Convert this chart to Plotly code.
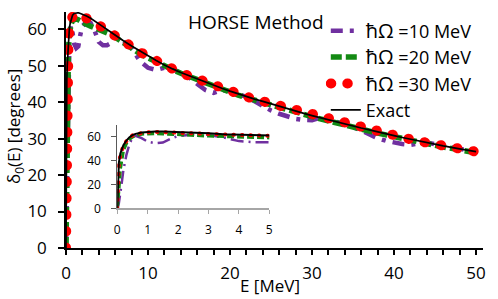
import plotly.graph_objects as go

# ---------------- data ----------------
E = [0, 0.02, 0.05, 0.1, 0.15, 0.2, 0.3, 0.4, 0.5, 0.6, 0.8, 1.0, 1.25, 1.5, 1.75,
     2.0, 2.5, 3.0, 3.5, 4.0, 4.5, 5.0, 5.5, 6.0, 6.5, 7, 8, 9, 10, 11, 12, 12.5,
     13, 14, 15, 16, 17, 18, 19, 20, 21, 22, 23, 24, 25, 26, 27, 28, 29, 30, 31,
     32, 34, 36, 37, 38, 39, 40, 41, 42, 43, 44, 46, 48, 50]

delta_exact = [0, 24, 38, 46, 50, 53, 57, 59.8, 61.5, 62.6, 63.8, 64.3, 64.5, 64.5, 64.3,
               64.1, 63.6, 63.0, 62.3, 61.5, 60.7, 59.9, 59.1, 58.3, 57.5, 56.8, 55.4, 54.0, 52.7, 51.4, 50.2, 49.6,
               49.1, 48.1, 47.2, 46.3, 45.5, 44.6, 43.8, 43.0, 42.2, 41.5, 40.8, 40.2, 39.5, 38.9, 38.2, 37.6, 36.9, 36.3, 35.7,
               35.1, 34.0, 32.9, 32.4, 31.8, 31.3, 30.8, 30.3, 29.8, 29.3, 28.9, 28.0, 27.2, 26.4]

delta_10 = [0, 1, 4, 12, 22, 32, 45, 54, 59.5, 61, 59.0, 56.0, 54.8, 55.3, 58.5,
            60.8, 62.0, 61.7, 59.5, 56.5, 55.6, 55.6, 56.2, 57.6, 57.4, 56.7, 54.8, 51.3, 49.4, 48.8, 49.4, 49.6,
            49.1, 48.0, 46.8, 45.0, 43.3, 42.5, 43.3, 43.0, 42.2, 41.4, 40.2, 38.8, 37.7, 36.8, 36.0, 35.4, 35.1, 35.0, 35.7,
            35.1, 34.0, 32.2, 31.0, 30.1, 29.4, 28.9, 28.5, 28.3, 28.5, 28.9, 28.0, 27.2, 26.4]

delta_20 = [0, 4, 15, 33, 43, 48.5, 54.5, 58, 60, 61.2, 62.4, 62.8, 62.8, 62.6, 62.2,
            61.8, 61.3, 60.8, 60.4, 60.0, 59.6, 59.1, 58.5, 57.8, 57.0, 56.2, 54.7, 53.3, 52.1, 50.9, 49.9, 49.4,
            48.9, 47.9, 47.0, 46.1, 45.2, 44.3, 43.5, 42.7, 41.9, 41.2, 40.5, 39.9, 39.2, 38.6, 37.9, 37.3, 36.6, 36.0, 35.4,
            34.8, 33.7, 32.6, 32.1, 31.5, 31.0, 30.5, 30.0, 29.5, 29.0, 28.6, 27.7, 26.9, 26.1]

delta_30 = [0, 20, 36, 45, 49.5, 52.5, 56.5, 59.5, 61.3, 62.4, 63.6, 64.0, 64.2, 64.1, 63.9,
            63.6, 63.1, 62.5, 61.8, 61.1, 60.4, 59.6, 58.8, 58.0, 57.3, 56.6, 55.2, 53.8, 52.5, 51.2, 50.0, 49.5,
            49.0, 48.0, 47.2, 46.3, 45.5, 44.6, 43.8, 43.0, 42.2, 41.5, 40.8, 40.2, 39.5, 38.9, 38.2, 37.6, 36.9, 36.3, 35.7,
            35.1, 34.0, 32.9, 32.4, 31.8, 31.3, 30.8, 30.3, 29.8, 29.3, 28.9, 28.0, 27.2, 26.4]

series_names = ["<span style='font-size:20px'>ħΩ</span> =10 MeV",
                "<span style='font-size:20px'>ħΩ</span> =20 MeV",
                "<span style='font-size:20px'>ħΩ</span> =30 MeV",
                "Exact"]

x_ticks_main = [0, 10, 20, 30, 40, 50]
x_minor_ticks_main = [0, 2, 4, 6, 8, 10, 12, 14, 16, 18, 20, 22, 24, 26, 28, 30,
                      32, 34, 36, 38, 40, 42, 44, 46, 48, 50]
y_ticks_main = [0, 10, 20, 30, 40, 50, 60]
x_ticks_inset = [0, 1, 2, 3, 4, 5]
y_ticks_inset = [0, 20, 40, 60]

title_text = "HORSE Method"
x_title = "E [MeV]"
y_title = "δ<sub>0</sub>(E) [degrees]"

# ---------------- styling ----------------
FONT = "Open Sans"
PURPLE = "#7030A0"
GREEN = "#138A13"
RED = "#FF0000"
BLACK = "#000000"

fig = go.Figure()

series = [delta_10, delta_20, delta_30, delta_exact]
main_lines = [
    dict(color=PURPLE, width=4.5, dash="12px,7px,4px,7px"),
    dict(color=GREEN, width=5.5, dash="11px,4px"),
    dict(color=RED, width=10, dash="0.5px,16px"),
    dict(color=BLACK, width=1.7),
]
inset_lines = [
    dict(color=PURPLE, width=2.5, dash="13px,5px,2px,5px"),
    dict(color=GREEN, width=3.2, dash="7px,3px"),
    dict(color=RED, width=4, dash="0.5px,8px"),
    dict(color=BLACK, width=2),
]

for vals, name, ln in zip(series, series_names, main_lines):
    fig.add_trace(go.Scatter(x=E, y=vals, name=name, mode="lines", line=ln,
                             xaxis="x", yaxis="y", showlegend=True))
for vals, name, ln in zip(series, series_names, inset_lines):
    fig.add_trace(go.Scatter(x=E, y=vals, name=name, mode="lines", line=ln,
                             xaxis="x2", yaxis="y2", showlegend=False))

tickfont_main = dict(family=FONT, size=17, color="black")
tickfont_inset = dict(family=FONT, size=12, color="black")

XR = [0, 50.85]
YR = [0, 64.7]
XR2 = [0, 5]
YR2 = [0, 70]

common = dict(showgrid=False, zeroline=False, automargin=False, fixedrange=True)

fig.update_layout(
    template="none",
    width=498, height=299, autosize=False,
    margin=dict(l=66, r=15, t=12, b=51, pad=0),
    paper_bgcolor="white", plot_bgcolor="rgba(0,0,0,0)",
    font=dict(family=FONT, color="black"),
    showlegend=True,
    legend=dict(x=0.623, y=0.998, xanchor="left", yanchor="top",
                bgcolor="rgba(0,0,0,0)", borderwidth=0,
                font=dict(family=FONT, size=18, color="black"),
                itemwidth=30, tracegroupgap=0),
    xaxis=dict(domain=[0, 1], range=XR, anchor="y", **common,
               showline=True, linecolor="black", linewidth=1.5,
               ticks="outside", ticklen=5, tickwidth=1.5, tickcolor="black",
               tickmode="array", tickvals=x_ticks_main,
               minor=dict(tickmode="array", tickvals=x_minor_ticks_main, ticks="outside",
                          ticklen=5, tickwidth=1.5, tickcolor="black", showgrid=False),
               tickfont=tickfont_main, ticklabelstandoff=4),
    xaxis3=dict(overlaying="x", matches="x", anchor="y", range=XR, **common,
                showline=False, ticks="inside", ticklen=5, tickwidth=1.5, tickcolor="black",
                tickmode="array", tickvals=x_minor_ticks_main, showticklabels=False),
    yaxis=dict(domain=[0, 1], range=YR, anchor="x", **common,
               showline=True, linecolor="black", linewidth=1.5,
               ticks="outside", ticklen=6, tickwidth=1.5, tickcolor="black",
               tickmode="array", tickvals=y_ticks_main,
               tickfont=tickfont_main, ticklabelstandoff=8),
    yaxis3=dict(overlaying="y", matches="y", anchor="x", range=YR, **common,
                showline=False, ticks="inside", ticklen=6, tickwidth=1.5, tickcolor="black",
                tickmode="array", tickvals=y_ticks_main, showticklabels=False),
    xaxis2=dict(domain=[0.123, 0.4875], range=XR2, anchor="y2", **common,
                showline=True, linecolor="#A6A6A6", linewidth=1.5,
                ticks="outside", ticklen=4, tickwidth=1, tickcolor="#A6A6A6",
                tickmode="array", tickvals=x_ticks_inset,
                tickfont=tickfont_inset, ticklabelstandoff=5),
    xaxis4=dict(overlaying="x2", matches="x2", anchor="y2", range=XR2, **common,
                showline=False, ticks="inside", ticklen=4, tickwidth=1, tickcolor="#A6A6A6",
                tickmode="array", tickvals=x_ticks_inset, showticklabels=False),
    yaxis2=dict(domain=[0.168, 0.521], range=YR2, anchor="x2", **common,
                showline=True, linecolor="#595959", linewidth=1,
                ticks="outside", ticklen=5, tickwidth=1, tickcolor="#595959",
                tickmode="array", tickvals=y_ticks_inset,
                tickfont=tickfont_inset, ticklabelstandoff=8),
    yaxis4=dict(overlaying="y2", matches="y2", anchor="x2", range=YR2, **common,
                showline=False, ticks="inside", ticklen=5, tickwidth=1, tickcolor="#595959",
                tickmode="array", tickvals=y_ticks_inset, showticklabels=False),
    annotations=[
        dict(text=title_text, xref="paper", yref="paper", x=0.456, y=0.958,
             xanchor="center", yanchor="middle", showarrow=False,
             font=dict(family=FONT, size=19, color="black")),
        dict(text=x_title, xref="paper", yref="paper", x=0.49, y=-0.157,
             xanchor="center", yanchor="middle", showarrow=False,
             font=dict(family=FONT, size=17, color="black")),
        dict(text=y_title, xref="paper", yref="paper", x=-0.122, y=0.513,
             xanchor="center", yanchor="middle", showarrow=False, textangle=-90,
             font=dict(family=FONT, size=17, color="black")),
    ],
)

post = """
document.body.style.margin = '0';
document.body.style.padding = '0';
document.body.style.overflow = 'hidden';
var gd = document.getElementById('{plot_id}');
var fixCaps = function(){
  document.querySelectorAll('path').forEach(function(p){
    if (p.style.stroke === 'rgb(255, 0, 0)') { p.style.strokeLinecap = 'round'; }
  });
};
fixCaps();
gd.on('plotly_afterplot', fixCaps);
"""

fig.write_html("out.html", post_script=post, config={"displayModeBar": False})
